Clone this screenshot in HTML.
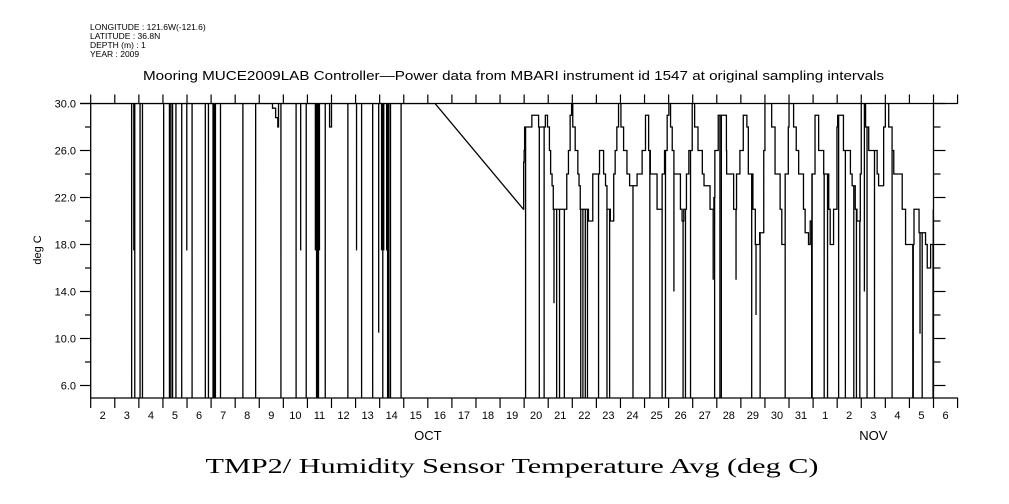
<!DOCTYPE html>
<html><head><meta charset="utf-8"><style>
html,body{margin:0;padding:0;background:#fff;}
svg{display:block;font-family:"Liberation Sans",sans-serif;}
</style></head><body>
<svg id="chart" width="1009" height="504" viewBox="0 0 1009 504" xmlns="http://www.w3.org/2000/svg">
<g font-size="8.5" fill="#000">
<text x="90" y="30">LONGITUDE : 121.6W(-121.6)</text>
<text x="90" y="39">LATITUDE : 36.8N</text>
<text x="90" y="48">DEPTH (m) : 1</text>
<text x="90" y="57">YEAR : 2009</text>
</g>
<text x="143" y="80" font-size="12.5" textLength="741" lengthAdjust="spacingAndGlyphs">Mooring MUCE2009LAB Controller—Power data from MBARI instrument id 1547 at original sampling intervals</text>
<text x="0" y="0" transform="translate(41,250) rotate(-90)" text-anchor="middle" font-size="11">deg C</text>
<text x="512" y="473" font-family="Liberation Serif, serif" font-size="21" textLength="613" lengthAdjust="spacingAndGlyphs" text-anchor="middle">TMP2/ Humidity Sensor Temperature Avg (deg C)</text>
<g id="axes"></g>
<g id="series" clip-path="url(#clip)"></g>
<defs><clipPath id="clip"><rect x="90.7" y="103.5" width="842.6" height="294.5"/></clipPath></defs>
</svg>
<script>
// tick data
const yTickValues = [6, 10, 14, 18, 22, 26, 30];
const yTickLabels = ["6.0","10.0","14.0","18.0","22.0","26.0","30.0"];
const dayLabels = ["2","3","4","5","6","7","8","9","10","11","12","13","14","15","16","17","18","19","20","21","22","23","24","25","26","27","28","29","30","31","1","2","3","4","5","6"];
const monthLabels = ["OCT","NOV"];
const monthLabelDays = [16.0, 34.5];
// series: time in day-of-October (Nov n = 31+n), value deg C
const times = [2.0, 9.40, 9.55, 9.68, 9.77, 9.80, 9.95, 11.88, 11.92, 11.98, 12.0, 16.30, 19.97, 19.98, 20.0, 20.02, 20.31, 20.32, 20.59, 20.60, 20.80, 20.88, 20.97, 21.05, 21.10, 21.16, 21.21, 21.70, 21.77, 21.84, 21.91, 21.97, 22.02, 22.12, 22.23, 22.28, 22.33, 22.67, 22.74, 22.85, 23.13, 23.20, 23.30, 23.38, 23.44, 23.58, 23.65, 23.72, 23.78, 23.85, 23.92, 24.02, 24.13, 24.27, 24.38, 24.69, 24.83, 24.90, 25.04, 25.10, 25.17, 25.24, 25.52, 25.59, 25.73, 25.83, 25.94, 26.01, 26.08, 26.15, 26.22, 26.49, 26.56, 26.63, 26.74, 26.84, 26.98, 27.08, 27.22, 27.40, 27.47, 27.72, 27.78, 27.88, 27.92, 28.06, 28.13, 28.40, 28.41, 28.68, 28.70, 28.74, 28.82, 28.96, 29.10, 29.25, 29.31, 29.50, 29.60, 29.66, 29.78, 29.95, 30.0, 30.14, 30.28, 30.42, 30.63, 30.70, 30.77, 30.84, 30.97, 31.0, 31.05, 31.19, 31.30, 31.40, 31.60, 31.67, 31.81, 31.88, 31.95, 32.08, 32.23, 32.44, 32.65, 32.71, 32.78, 32.85, 32.99, 33.02, 33.13, 33.26, 33.55, 33.62, 33.69, 33.75, 33.82, 33.96, 34.0, 34.05, 34.18, 34.31, 34.66, 34.72, 34.80, 34.93, 35.0, 35.14, 35.28, 35.35, 35.70, 35.84, 36.12, 36.19, 36.33, 36.40, 36.67, 36.74, 36.80, 36.88, 36.99];
const temps = [30, 30, 29.6, 28.8, 28, 30, 30, 30, 28, 28, 30, 30, 21, 25, 26, 28, 28, 29, 29, 28, 28, 29, 28, 26, 24, 23, 21, 21, 24, 26, 29, 30, 28, 26, 24, 23, 21, 20, 20, 24, 26, 26, 24, 23, 21, 20, 20, 24, 26, 28, 30, 28, 26, 24, 23, 24, 24, 26, 29, 29, 26, 24, 21, 21, 24, 26, 29, 30, 28, 26, 24, 21, 20, 21, 24, 26, 30, 28, 26, 24, 23, 21, 21, 22, 26, 29, 29, 26, 24, 24, 21, 21, 24, 26, 29, 28, 24, 21, 18, 18, 19, 26, 30, 30, 28, 24, 21, 18, 18, 24, 28, 30, 30, 28, 26, 24, 21, 19, 18, 20, 24, 29, 26, 24, 21, 18, 18, 21, 28, 29, 29, 26, 24, 23, 23, 21, 20, 24, 30, 30, 28, 26, 24, 23, 23, 28, 30, 28, 26, 24, 21, 18, 18, 21, 21, 19, 18, 16, 16, 18, 21, 26, 25.5];
// dropouts: time and the minimum value reached (0 = off-scale low)
const dropTimes = [3.70, 3.79, 3.83, 4.05, 4.15, 5.03, 5.27, 5.33, 5.40, 5.54, 5.78, 5.99, 6.21, 6.76, 6.89, 7.08, 7.13, 7.18, 7.39, 8.32, 8.85, 9.90, 10.53, 10.72, 10.95, 11.33, 11.38, 11.42, 11.46, 11.50, 11.74, 12.68, 13.04, 13.25, 13.71, 13.96, 14.08, 14.13, 14.17, 14.29, 14.33, 14.38, 14.45, 14.89,
 20.06, 20.63, 20.83, 21.24, 21.35, 21.47, 21.67, 22.35, 22.44, 22.54, 22.63, 23.09, 23.44, 23.55, 24.52, 25.22, 25.73, 25.87, 26.22, 26.60, 26.70, 26.91, 27.85, 27.91, 28.19,
 28.13, 28.80, 29.45, 29.63, 29.80, 30.84, 31.94, 31.96, 32.46, 32.60, 33.06, 33.34, 33.69, 33.80, 33.94, 34.13, 34.24, 34.55, 35.28, 36.14, 36.16, 36.44, 36.53, 36.98];
const dropValues = [0, 17.5, 0, 0, 0, 0, 0, 0, 0, 0, 0, 17.5, 0, 0, 0, 0, 0, 0, 0, 0, 0, 0, 0, 17.5, 0, 17.5, 0, 0, 0, 17.5, 0, 0, 17.5, 0, 0, 10.5, 17.5, 0, 17.5, 17.5, 0, 0, 0, 0,
 0, 0, 0, 13, 0, 0, 0, 0, 0, 0, 0, 0, 0, 0, 0, 0, 0, 0, 14, 0, 0, 0, 15, 0, 0,
 0, 15, 0, 12, 0, 0, 0, 0, 0, 0, 0, 0, 0, 0, 0, 14, 0, 0, 0, 0, 0, 10.4, 0, 0];

const NS = "http://www.w3.org/2000/svg";
const X0 = 90.7, DX = 24.08, YTOP = 103.5, YBOT = 398, PY = 11.75;
function xs(d){ return X0 + (d - 2) * DX; }
function ys(v){ return YTOP + (30 - v) * PY; }
function mk(tag, attrs, parent){
  const e = document.createElementNS(NS, tag);
  for (const k in attrs) e.setAttribute(k, attrs[k]);
  parent.appendChild(e);
  return e;
}
const axes = document.getElementById('axes');
const XR = xs(37);
let ln = mk('line', {x1:80, y1:YTOP, x2:958, y2:YTOP, stroke:'#000','stroke-width':1.3}, axes);


ln = mk('line', {x1:X0, y1:YBOT, x2:958, y2:YBOT, stroke:'#000','stroke-width':1.3}, axes);


ln = mk('line', {x1:X0, y1:YTOP, x2:X0, y2:YBOT, stroke:'#000','stroke-width':1.3}, axes);


ln = mk('line', {x1:XR, y1:YTOP, x2:XR, y2:YBOT, stroke:'#000','stroke-width':1.3}, axes);


for (let v = 6; v <= 30; v += 2) {
  const major = yTickValues.indexOf(v) >= 0;
  const t1 = mk('line', {x1: major ? 80 : 85, y1: ys(v), x2: X0, y2: ys(v), stroke:'#000','stroke-width':1.2}, axes);
  
  
  const t2 = mk('line', {x1: XR, y1: ys(v), x2: major ? XR + 12 : XR + 7, y2: ys(v), stroke:'#000','stroke-width':1.2}, axes);
  
  
}
yTickValues.forEach((v, i) => {
  const t = mk('text', {x: 76, y: ys(v) + 4, 'text-anchor':'end', 'font-size':11}, axes);
  t.textContent = yTickLabels[i];
  
  
});
for (let i = 0; i <= 36; i++) {
  const x = X0 + i * DX;
  const a = mk('line', {x1:x, y1:YBOT, x2:x, y2:YBOT + 10, stroke:'#000','stroke-width':1.2}, axes);
  
  
  const b = mk('line', {x1:x, y1:YTOP - 9, x2:x, y2:YTOP, stroke:'#000','stroke-width':1.2}, axes);
  
  
}
dayLabels.forEach((lab, i) => {
  const t = mk('text', {x: X0 + (i + 0.5) * DX, y: 419, 'text-anchor':'middle', 'font-size':11}, axes);
  t.textContent = lab;
  
  
});
monthLabels.forEach((lab, i) => {
  const t = mk('text', {x: xs(monthLabelDays[i]), y: 440, 'text-anchor':'middle', 'font-size':13}, axes);
  t.textContent = lab;
  
  
});
// series
const pts = times.map((t, i) => ({t: t, v: temps[i]}));
function valAt(t){
  for (let i = 0; i < pts.length - 1; i++) {
    if (t >= pts[i].t && t < pts[i+1].t) {
      if (pts[i+1].t - pts[i].t > 1) {
        const f = (t - pts[i].t) / (pts[i+1].t - pts[i].t);
        return pts[i].v + f * (pts[i+1].v - pts[i].v);
      }
      return pts[i].v;
    }
  }
  return pts[pts.length - 1].v;
}
const merged = pts.slice();
dropTimes.forEach((t, i) => {
  const base = valAt(t);
  merged.push({t: t - 0.0005, v: base});
  merged.push({t: t, v: dropValues[i] === 0 ? -5 : dropValues[i]});
  merged.push({t: t + 0.0005, v: base});
});
merged.sort((a, b) => a.t - b.t);
const series = document.getElementById('series');
let dStr = '';
merged.forEach((p, i) => {
  const x = xs(p.t).toFixed(2), y = Math.min(YBOT + 5, ys(p.v)).toFixed(2);
  if (i === 0) { dStr += 'M' + x + ' ' + y; return; }
  const prev = merged[i - 1];
  if (p.t - prev.t > 1 || Math.abs(p.t - prev.t) < 0.002) {
    dStr += ' L' + x + ' ' + y;
  } else {
    dStr += ' H' + x + ' V' + y;
  }
});
const path = mk('path', {d: dStr, fill:'none', stroke:'#000', 'stroke-width':1.3}, series);


</script>
</body></html>
